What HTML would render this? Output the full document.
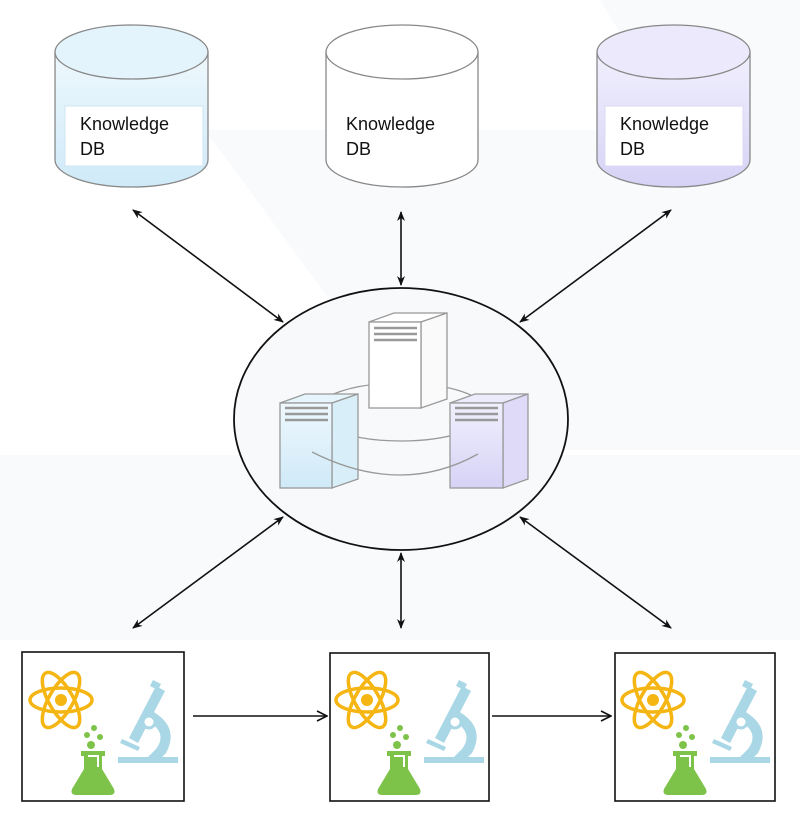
<!DOCTYPE html>
<html><head><meta charset="utf-8"><style>
html,body{margin:0;padding:0;background:#fff}
svg{display:block}
text{font-family:"Liberation Sans",sans-serif;font-size:18px;fill:#111}
</style></head><body>
<svg width="800" height="826" viewBox="0 0 800 826" xmlns="http://www.w3.org/2000/svg">
<defs>
<marker id="a" markerWidth="10" markerHeight="10" refX="9" refY="5" orient="auto-start-reverse" markerUnits="userSpaceOnUse"><path d="M0,1 L10,5 L0,9 L3,5 Z" fill="#111"/></marker>
<marker id="o" markerWidth="12" markerHeight="12" refX="11" refY="6" orient="auto" markerUnits="userSpaceOnUse"><path d="M1,1 L11,6 L1,11" fill="none" stroke="#111" stroke-width="1.6"/></marker>
<linearGradient id="gb" x1="0" y1="0" x2="0" y2="1"><stop offset="0" stop-color="#eef8fd"/><stop offset="1" stop-color="#cfeaf8"/></linearGradient>
<linearGradient id="gp" x1="0" y1="0" x2="0" y2="1"><stop offset="0" stop-color="#f1f0fd"/><stop offset="1" stop-color="#d6d2f6"/></linearGradient>
<g id="icon">
 <g fill="none" stroke="#f5b512" stroke-width="3.5">
  <ellipse cx="37" cy="47" rx="31" ry="12"/>
  <ellipse cx="37" cy="47" rx="31" ry="12" transform="rotate(60 37 47)"/>
  <ellipse cx="37" cy="47" rx="31" ry="12" transform="rotate(-60 37 47)"/>
 </g>
 <circle cx="37" cy="47" r="6" fill="#f5b512"/>
 <g fill="#7dc34a">
  <circle cx="70" cy="75" r="3"/><circle cx="63" cy="82" r="3"/><circle cx="76" cy="84" r="3"/><circle cx="67" cy="92" r="4"/>
  <path d="M57,98 L81,98 L81,103 L78,103 L78,116 L90,136 Q92,142 86,142 L52,142 Q46,142 48,136 L60,116 L60,103 L57,103 Z"/>
 </g>
 <path d="M64,103 L74,103 L74,114" fill="none" stroke="#fff" stroke-width="2"/>
 <g fill="#a9d7e6">
  <rect x="94" y="104" width="60" height="6"/>
  <path d="M132,33 L141,38 L114,90 L105,85 Z"/>
  <path d="M129,27 L137,31 L134,37 L126,33 Z"/>
  <path d="M98,86 L116,94 L114,98 L96,90 Z"/>
  <path d="M128,58 Q156,74 142,100 L136,106 L122,106 L132,96 Q144,80 124,68 Z"/>
 </g>
 <circle cx="125" cy="69" r="6" fill="#fff" stroke="#a9d7e6" stroke-width="3"/>
</g>
</defs>
<rect x="0" y="0" width="800" height="826" fill="#fff"/>
<path d="M205,130 L800,130 L800,450 L440,450 Z" fill="#f8fafc"/>
<path d="M0,455 L800,455 L800,640 L0,640 Z" fill="#f9fafc"/>
<path d="M600,0 L800,0 L800,130 L680,130 Z" fill="#f8fafc"/>

<g stroke="#888" stroke-width="1.3">
 <path d="M55,52 L55,160 A76.5,27 0 0 0 208,160 L208,52" fill="url(#gb)"/>
 <ellipse cx="131.5" cy="52" rx="76.5" ry="27" fill="#e4f4fc"/>
 <path d="M326,52 L326,160 A76,27 0 0 0 478,160 L478,52" fill="#fff"/>
 <ellipse cx="402" cy="52" rx="76" ry="27" fill="#fff"/>
 <path d="M597,52 L597,160 A76.5,27 0 0 0 750,160 L750,52" fill="url(#gp)"/>
 <ellipse cx="673.5" cy="52" rx="76.5" ry="27" fill="#ebe9fb"/>
</g>
<rect x="65" y="106" width="138" height="60" fill="#fff" stroke="#cfe6f3"/>
<rect x="605" y="106" width="138" height="60" fill="#fff" stroke="#dcd8f5"/>
<text x="80" y="130">Knowledge</text><text x="80" y="155">DB</text>
<text x="346" y="130">Knowledge</text><text x="346" y="155">DB</text>
<text x="620" y="130">Knowledge</text><text x="620" y="155">DB</text>

<ellipse cx="401" cy="419" rx="167" ry="131" fill="#f7f9fb" stroke="#111" stroke-width="1.8"/>
<ellipse cx="401" cy="412" rx="86" ry="29" fill="none" stroke="#999" stroke-width="1.3"/>
<g stroke="#999" stroke-width="1.3">
 <path d="M369,322 L394,313 L447,313 L421,322 Z" fill="#fff"/>
 <path d="M421,322 L447,313 L447,399 L421,408 Z" fill="#fafafa"/>
 <rect x="369" y="322" width="52" height="86" fill="#fff"/>
 <path d="M280,403 L305,394 L358,394 L332,403 Z" fill="#e6f5fc"/>
 <path d="M332,403 L358,394 L358,479 L332,488 Z" fill="#d8eff9"/>
 <rect x="280" y="403" width="52" height="85" fill="url(#gb)"/>
 <path d="M450,403 L475,394 L528,394 L503,403 Z" fill="#ecebfb"/>
 <path d="M503,403 L528,394 L528,479 L503,488 Z" fill="#dedaf7"/>
 <rect x="450" y="403" width="53" height="85" fill="url(#gp)"/>
</g>
<path d="M312,452 Q401,497 478,454" fill="none" stroke="#999" stroke-width="1.3"/>
<g stroke="#999" stroke-width="2.5">
 <line x1="374" y1="328" x2="417" y2="328"/><line x1="374" y1="334" x2="417" y2="334"/><line x1="374" y1="340" x2="417" y2="340"/>
 <line x1="285" y1="408" x2="328" y2="408"/><line x1="285" y1="414" x2="328" y2="414"/><line x1="285" y1="420" x2="328" y2="420"/>
 <line x1="455" y1="408" x2="498" y2="408"/><line x1="455" y1="414" x2="498" y2="414"/><line x1="455" y1="420" x2="498" y2="420"/>
</g>

<g stroke="#111" stroke-width="1.6" marker-start="url(#a)" marker-end="url(#a)">
 <line x1="133" y1="210" x2="283" y2="322"/>
 <line x1="401" y1="212" x2="401" y2="285"/>
 <line x1="671" y1="210" x2="520" y2="322"/>
 <line x1="283" y1="517" x2="133" y2="628"/>
 <line x1="401" y1="553" x2="401" y2="628"/>
 <line x1="520" y1="517" x2="671" y2="628"/>
</g>
<g stroke="#111" stroke-width="1.6" marker-end="url(#o)">
 <line x1="193" y1="716" x2="327" y2="716"/>
 <line x1="492" y1="716" x2="611" y2="716"/>
</g>

<rect x="22" y="652" width="162" height="149" fill="#fff" stroke="#111" stroke-width="1.6"/>
<rect x="330" y="653" width="159" height="148" fill="#fff" stroke="#111" stroke-width="1.6"/>
<rect x="615" y="653" width="160" height="148" fill="#fff" stroke="#111" stroke-width="1.6"/>
<use href="#icon" x="24" y="653"/>
<use href="#icon" x="330" y="653"/>
<use href="#icon" x="616" y="653"/>
</svg>
</body></html>
